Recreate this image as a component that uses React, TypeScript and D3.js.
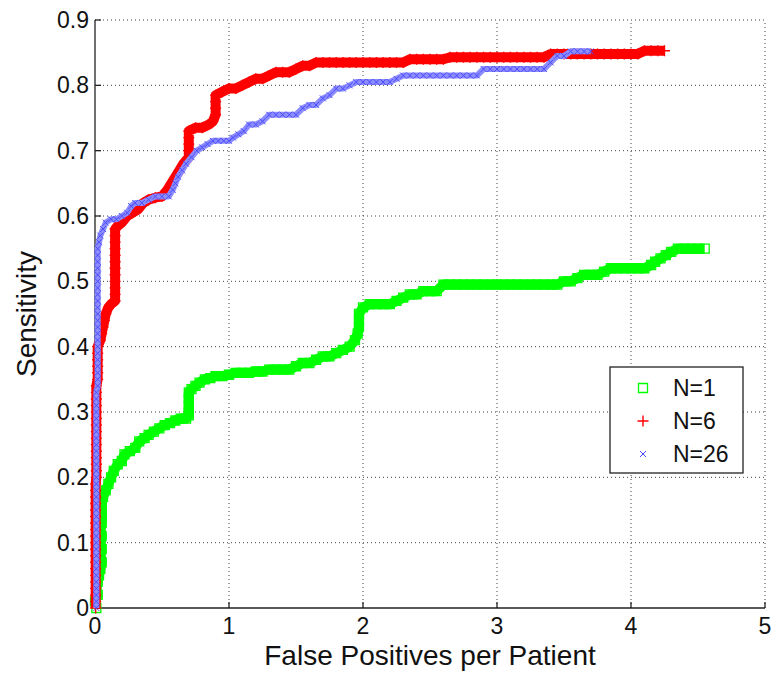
import React from "react"
import * as d3 from "d3"

// ROC points: [false positives per patient, sensitivity]
const xTicks = [0, 1, 2, 3, 4, 5]
const yTicks = [0, 0.1, 0.2, 0.3, 0.4, 0.5, 0.6, 0.7, 0.8, 0.9]
const seriesNames = ["N=1", "N=6", "N=26"]

const n1: [number, number][] = [
  [0.01, 0], [0.0, 0.01], [0.02, 0.02], [0.01, 0.03], [0.02, 0.04], [0.03, 0.05],
  [0.04, 0.06], [0.05, 0.07], [0.04, 0.08], [0.05, 0.09], [0.04, 0.1], [0.05, 0.11],
  [0.04, 0.12], [0.05, 0.13], [0.05, 0.14], [0.05, 0.15], [0.05, 0.16], [0.06, 0.17],
  [0.08, 0.18], [0.1, 0.19], [0.12, 0.2], [0.14, 0.21], [0.17, 0.22], [0.2, 0.225],
  [0.22, 0.235], [0.26, 0.24], [0.3, 0.245], [0.33, 0.255], [0.37, 0.26], [0.4, 0.265],
  [0.44, 0.27], [0.48, 0.275], [0.52, 0.28], [0.56, 0.283], [0.6, 0.287], [0.64, 0.29],
  [0.68, 0.29], [0.7, 0.295], [0.7, 0.3], [0.7, 0.31], [0.7, 0.32], [0.7, 0.33],
  [0.72, 0.335], [0.75, 0.34], [0.78, 0.345], [0.82, 0.35], [0.86, 0.352], [0.9, 0.355],
  [0.95, 0.355], [1.0, 0.357], [1.05, 0.36], [1.1, 0.36], [1.15, 0.36], [1.2, 0.362],
  [1.25, 0.362], [1.3, 0.365], [1.35, 0.365], [1.4, 0.365], [1.45, 0.365], [1.5, 0.37],
  [1.55, 0.375], [1.6, 0.375], [1.65, 0.38], [1.7, 0.385], [1.75, 0.385], [1.8, 0.39],
  [1.85, 0.395], [1.9, 0.4], [1.94, 0.41], [1.96, 0.42], [1.97, 0.43], [1.97, 0.44],
  [1.97, 0.45], [2.0, 0.46], [2.05, 0.465], [2.1, 0.465], [2.15, 0.465], [2.2, 0.465],
  [2.25, 0.47], [2.3, 0.475], [2.35, 0.48], [2.4, 0.48], [2.45, 0.485], [2.5, 0.485],
  [2.55, 0.485], [2.6, 0.495], [2.65, 0.495], [2.7, 0.495], [2.75, 0.495], [2.8, 0.495],
  [2.85, 0.495], [2.9, 0.495], [2.95, 0.495], [3.0, 0.495], [3.05, 0.495], [3.1, 0.495],
  [3.15, 0.495], [3.2, 0.495], [3.25, 0.495], [3.3, 0.495], [3.35, 0.495], [3.4, 0.495],
  [3.45, 0.495], [3.5, 0.5], [3.55, 0.5], [3.6, 0.505], [3.65, 0.51], [3.7, 0.51],
  [3.75, 0.51], [3.8, 0.515], [3.85, 0.52], [3.9, 0.52], [3.95, 0.52], [4.0, 0.52],
  [4.05, 0.52], [4.1, 0.52], [4.15, 0.525], [4.18, 0.53], [4.22, 0.535], [4.26, 0.54],
  [4.3, 0.545], [4.35, 0.55], [4.4, 0.55], [4.45, 0.55], [4.5, 0.55], [4.55, 0.55],
]

const n6: [number, number][] = [
  [0.005, 0], [0.005, 0.01], [0.005, 0.02], [0.005, 0.03], [0.005, 0.04], [0.005, 0.05],
  [0.005, 0.06], [0.005, 0.07], [0.005, 0.08], [0.005, 0.09], [0.005, 0.1], [0.005, 0.11],
  [0.005, 0.12], [0.005, 0.13], [0.005, 0.14], [0.005, 0.15], [0.005, 0.16], [0.005, 0.17],
  [0.005, 0.18], [0.005, 0.19], [0.01, 0.2], [0.01, 0.21], [0.01, 0.22], [0.01, 0.23],
  [0.01, 0.24], [0.01, 0.25], [0.01, 0.26], [0.01, 0.27], [0.01, 0.28], [0.01, 0.29],
  [0.01, 0.3], [0.01, 0.31], [0.01, 0.32], [0.01, 0.33], [0.01, 0.34], [0.02, 0.35],
  [0.02, 0.36], [0.02, 0.37], [0.02, 0.38], [0.02, 0.39], [0.02, 0.4], [0.04, 0.41],
  [0.05, 0.42], [0.06, 0.43], [0.07, 0.44], [0.08, 0.45], [0.1, 0.46], [0.12, 0.465],
  [0.15, 0.47], [0.15, 0.48], [0.15, 0.49], [0.15, 0.5], [0.15, 0.51], [0.15, 0.52],
  [0.15, 0.53], [0.15, 0.54], [0.15, 0.55], [0.15, 0.56], [0.15, 0.57], [0.15, 0.58],
  [0.17, 0.585], [0.2, 0.59], [0.24, 0.6], [0.28, 0.605], [0.32, 0.61], [0.36, 0.62],
  [0.4, 0.625], [0.45, 0.628], [0.5, 0.63], [0.54, 0.64], [0.57, 0.65], [0.6, 0.66],
  [0.63, 0.67], [0.66, 0.68], [0.7, 0.69], [0.7, 0.7], [0.7, 0.71], [0.7, 0.72],
  [0.7, 0.73], [0.75, 0.735], [0.8, 0.735], [0.85, 0.74], [0.88, 0.745], [0.9, 0.755],
  [0.9, 0.765], [0.9, 0.775], [0.9, 0.785], [0.95, 0.79], [1.0, 0.795], [1.05, 0.795],
  [1.1, 0.8], [1.15, 0.805], [1.2, 0.81], [1.25, 0.81], [1.3, 0.815], [1.35, 0.82],
  [1.4, 0.82], [1.45, 0.82], [1.5, 0.825], [1.55, 0.83], [1.6, 0.83], [1.65, 0.835],
  [1.7, 0.835], [1.75, 0.835], [1.8, 0.835], [1.85, 0.835], [1.9, 0.835], [1.95, 0.835],
  [2.0, 0.835], [2.05, 0.835], [2.1, 0.835], [2.15, 0.835], [2.2, 0.835], [2.25, 0.835],
  [2.3, 0.835], [2.35, 0.84], [2.4, 0.84], [2.45, 0.84], [2.5, 0.84], [2.55, 0.84],
  [2.6, 0.84], [2.65, 0.843], [2.7, 0.843], [2.75, 0.843], [2.8, 0.843], [2.85, 0.843],
  [2.9, 0.843], [2.95, 0.843], [3.0, 0.843], [3.05, 0.843], [3.1, 0.843], [3.15, 0.843],
  [3.2, 0.843], [3.25, 0.843], [3.3, 0.843], [3.35, 0.843], [3.4, 0.848], [3.45, 0.848],
  [3.5, 0.848], [3.55, 0.848], [3.6, 0.848], [3.65, 0.848], [3.7, 0.848], [3.75, 0.848],
  [3.8, 0.848], [3.85, 0.848], [3.9, 0.848], [3.95, 0.848], [4.0, 0.848], [4.05, 0.848],
  [4.1, 0.853], [4.15, 0.853], [4.2, 0.853], [4.25, 0.853],
]

const n26: [number, number][] = [
  [0.01, 0], [0.01, 0.01], [0.01, 0.02], [0.01, 0.03], [0.01, 0.04], [0.01, 0.05],
  [0.01, 0.06], [0.01, 0.07], [0.01, 0.08], [0.01, 0.09], [0.01, 0.1], [0.01, 0.11],
  [0.01, 0.12], [0.01, 0.13], [0.01, 0.14], [0.01, 0.15], [0.01, 0.16], [0.01, 0.17],
  [0.01, 0.18], [0.01, 0.19], [0.01, 0.2], [0.01, 0.21], [0.01, 0.22], [0.01, 0.23],
  [0.01, 0.24], [0.01, 0.25], [0.01, 0.26], [0.01, 0.27], [0.01, 0.28], [0.01, 0.29],
  [0.01, 0.3], [0.01, 0.31], [0.01, 0.32], [0.01, 0.33], [0.02, 0.34], [0.02, 0.35],
  [0.02, 0.36], [0.02, 0.37], [0.02, 0.38], [0.02, 0.39], [0.02, 0.4], [0.02, 0.41],
  [0.02, 0.42], [0.02, 0.43], [0.02, 0.44], [0.02, 0.45], [0.02, 0.46], [0.02, 0.47],
  [0.02, 0.48], [0.02, 0.49], [0.02, 0.5], [0.02, 0.51], [0.02, 0.52], [0.02, 0.53],
  [0.02, 0.54], [0.02, 0.55], [0.03, 0.56], [0.04, 0.57], [0.06, 0.58], [0.08, 0.59],
  [0.12, 0.595], [0.16, 0.595], [0.2, 0.6], [0.24, 0.605], [0.27, 0.615], [0.3, 0.62],
  [0.35, 0.62], [0.4, 0.625], [0.45, 0.63], [0.5, 0.63], [0.55, 0.63], [0.58, 0.64],
  [0.6, 0.65], [0.62, 0.66], [0.65, 0.67], [0.68, 0.68], [0.72, 0.69], [0.76, 0.7],
  [0.8, 0.705], [0.84, 0.71], [0.88, 0.715], [0.92, 0.715], [0.96, 0.715], [1.0, 0.715],
  [1.03, 0.72], [1.07, 0.725], [1.11, 0.73], [1.15, 0.74], [1.2, 0.74], [1.25, 0.745],
  [1.3, 0.755], [1.35, 0.755], [1.4, 0.755], [1.45, 0.755], [1.5, 0.755], [1.55, 0.765],
  [1.6, 0.77], [1.65, 0.77], [1.7, 0.78], [1.75, 0.785], [1.8, 0.795], [1.85, 0.795],
  [1.9, 0.8], [1.95, 0.805], [2.0, 0.805], [2.05, 0.805], [2.1, 0.805], [2.15, 0.805],
  [2.2, 0.805], [2.25, 0.81], [2.3, 0.815], [2.35, 0.815], [2.4, 0.815], [2.45, 0.815],
  [2.5, 0.815], [2.55, 0.815], [2.6, 0.815], [2.65, 0.815], [2.7, 0.815], [2.75, 0.815],
  [2.8, 0.815], [2.85, 0.815], [2.9, 0.825], [2.95, 0.825], [3.0, 0.825], [3.05, 0.825],
  [3.1, 0.825], [3.15, 0.825], [3.2, 0.825], [3.25, 0.825], [3.3, 0.825], [3.35, 0.825],
  [3.4, 0.835], [3.45, 0.845], [3.5, 0.845], [3.55, 0.852], [3.6, 0.852], [3.65, 0.852],
  [3.7, 0.852],
]

const W = 774
const H = 679
const margin = { left: 95, right: 9, top: 20, bottom: 71 }
const font = "'Liberation Sans', Arial, Helvetica, sans-serif"

const squarePath = "M-4.5,-4.5h9v9h-9z"
const plusPath = "M-5.5,0h11M0,-5.5v11"
const crossPath = "M-3,-3l6,6M-3,3l6,-6"

// the original markers are packed so tight they read as a band; draw that band under them
const styles = [
  { data: n1, path: squarePath, color: "#00ff00", width: 1.3, band: "#00ff00", bandW: 10 },
  { data: n6, path: plusPath, color: "#ff0000", width: 1.4, band: "#ff0000", bandW: 10 },
  { data: n26, path: crossPath, color: "#4a4aff", width: 1, band: "#8c8cff", bandW: 6 },
]

export default function App() {
  const x = d3.scaleLinear().domain([0, 5]).range([margin.left, W - margin.right])
  const y = d3.scaleLinear().domain([0, 0.9]).range([H - margin.bottom, margin.top])
  const [x0, x1] = x.range()
  const [y0, y1] = y.range()
  const line = d3
    .line<[number, number]>()
    .x((d) => x(d[0]))
    .y((d) => y(d[1]))

  return (
    <svg
      width={W}
      height={H}
      style={{ position: "absolute", left: 0, top: 0, background: "#fff" }}
      fontFamily={font}
    >
      {/* dotted grid */}
      <g stroke="#444" strokeWidth={1} strokeDasharray="1,3">
        {xTicks.slice(1).map((t) => (
          <line key={"gx" + t} x1={x(t)} x2={x(t)} y1={y0} y2={y1} />
        ))}
        {yTicks.slice(1).map((t) => (
          <line key={"gy" + t} x1={x0} x2={x1} y1={y(t)} y2={y(t)} />
        ))}
      </g>

      {/* axes with inward ticks */}
      <g stroke="#222" strokeWidth={1.3}>
        <line x1={x0} x2={x1} y1={y0} y2={y0} />
        <line x1={x0} x2={x0} y1={y0} y2={y1} />
        {xTicks.map((t) => (
          <line key={"tx" + t} x1={x(t)} x2={x(t)} y1={y0} y2={y0 - 6} />
        ))}
        {yTicks.map((t) => (
          <line key={"ty" + t} x1={x0} x2={x0 + 6} y1={y(t)} y2={y(t)} />
        ))}
      </g>

      <g fontSize={23} fill="#111">
        {xTicks.map((t) => (
          <text key={"lx" + t} x={x(t)} y={y0 + 26} textAnchor="middle">
            {t}
          </text>
        ))}
        {yTicks.map((t) => (
          <text key={"ly" + t} x={x0 - 6} y={y(t) + 8} textAnchor="end">
            {t === 0 ? "0" : d3.format(".1f")(t)}
          </text>
        ))}
      </g>

      <text x={(x0 + x1) / 2} y={665} textAnchor="middle" fontSize={28} fill="#111">
        False Positives per Patient
      </text>
      <text
        transform={`translate(36,${(y0 + y1) / 2}) rotate(-90)`}
        textAnchor="middle"
        fontSize={28}
        fill="#111"
      >
        Sensitivity
      </text>

      {/* markers */}
      {styles.map((s, i) => (
        <g key={"s" + i}>
          <path
            d={line(s.data) ?? ""}
            fill="none"
            stroke={s.band}
            strokeWidth={s.bandW}
            strokeLinejoin="round"
          />
          <g fill="none" stroke={s.color} strokeWidth={s.width}>
            {s.data.map((d, j) => (
              <path key={j} d={s.path} transform={`translate(${x(d[0])},${y(d[1])})`} />
            ))}
          </g>
        </g>
      ))}

      {/* legend */}
      <g>
        <rect x={610} y={367} width={133} height={106} fill="#fff" stroke="#222" strokeWidth={1.3} />
        {styles.map((s, i) => (
          <g key={"lg" + i} transform={`translate(0,${388 + i * 33})`}>
            <path
              d={s.path}
              transform="translate(643,0)"
              fill="none"
              stroke={s.color}
              strokeWidth={s.width}
            />
            <text x={673} y={8} fontSize={23} fill="#111">
              {seriesNames[i]}
            </text>
          </g>
        ))}
      </g>
    </svg>
  )
}
